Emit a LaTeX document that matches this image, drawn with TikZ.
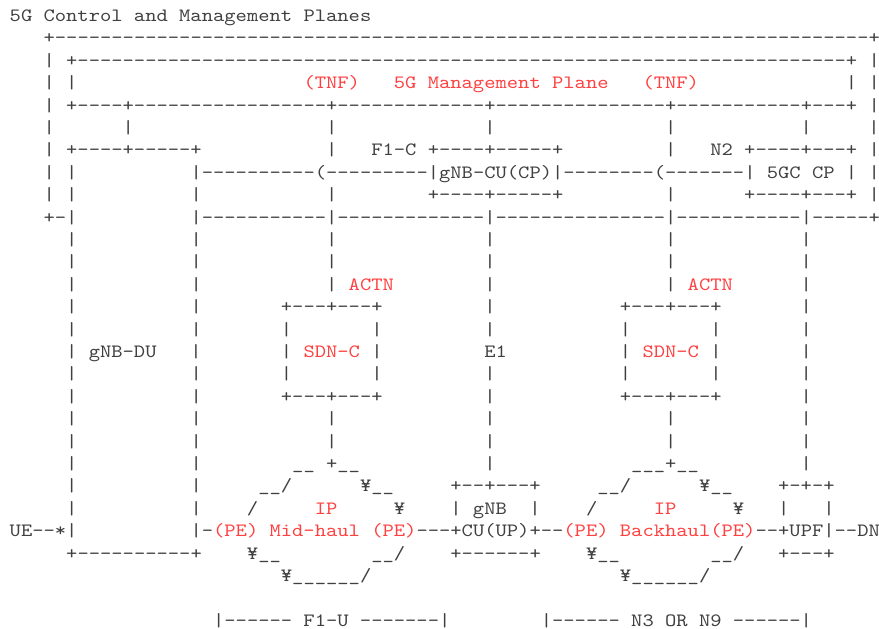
\documentclass[tikz,border=0pt]{standalone}
\usepackage{fontspec}
\setmonofont{lmmono10-regular.otf}[FakeStretch=1.145]
\usepackage{xcolor}
\definecolor{tgray}{HTML}{404040}
\definecolor{tred}{HTML}{FF4040}
\ExplSyntaxOn
\cs_new:Npn \myrepeat #1#2 { \prg_replicate:nn {#1} {#2} }
\ExplSyntaxOff
\newdimen\cw \cw=11.3pt
\newcommand\gap[1]{\kern#1\cw}
\newcommand\dsh[1]{\myrepeat{#1}{-}}
\newcommand\RD[1]{\textcolor{tred}{#1}}
\newcommand\us{\char"5F\relax}
\tikzset{ln/.style={anchor=base west,inner sep=0pt,outer sep=0pt,text=tgray,
  font=\ttfamily\fontsize{18.8}{22.4}\selectfont}}
\newcommand\ascrow[2]{\node[ln] (row#1) at (-1.6,{-21.4-22.4*#1}) {#2};}
\begin{document}
\begin{tikzpicture}[x=1pt,y=1pt]
\useasboundingbox[fill=white] (0,0) rectangle (879,-629);
\ascrow{0}{\gap{1}5G\gap{1}Control\gap{1}and\gap{1}Management\gap{1}Planes}
\ascrow{1}{\gap{4}+\dsh{72}+}
\ascrow{2}{\gap{4}|\gap{1}+\dsh{68}+\gap{1}|}
\ascrow{3}{\gap{4}|\gap{1}|\gap{20}\RD{(TNF)\gap{3}5G\gap{1}Management\gap{1}Plane\gap{3}(TNF)}\gap{13}|\gap{1}|}
\ascrow{4}{\gap{4}|\gap{1}+\dsh{4}+\dsh{17}+\dsh{13}+\dsh{15}+\dsh{11}+\dsh{3}+\gap{1}|}
\ascrow{5}{\gap{4}|\gap{6}|\gap{17}|\gap{13}|\gap{15}|\gap{11}|\gap{5}|}
\ascrow{6}{\gap{4}|\gap{1}+\dsh{4}+\dsh{5}+\gap{11}|\gap{3}F1-C\gap{1}+\dsh{4}+\dsh{5}+\gap{9}|\gap{3}N2\gap{1}+\dsh{4}+\dsh{3}+\gap{1}|}
\ascrow{7}{\gap{4}|\gap{1}|\gap{10}|\dsh{10}(\dsh{9}|gNB-CU(CP)|\dsh{8}(\dsh{7}|\gap{1}5GC\gap{1}CP\gap{1}|\gap{1}|}
\ascrow{8}{\gap{4}|\gap{1}|\gap{10}|\gap{11}|\gap{8}+\dsh{4}+\dsh{5}+\gap{9}|\gap{6}+\dsh{4}+\dsh{3}+\gap{1}|}
\ascrow{9}{\gap{4}+-|\gap{10}|\dsh{11}|\dsh{13}|\dsh{15}|\dsh{11}|\dsh{5}+}
\ascrow{10}{\gap{6}|\gap{10}|\gap{11}|\gap{13}|\gap{15}|\gap{11}|}
\ascrow{11}{\gap{6}|\gap{10}|\gap{11}|\gap{13}|\gap{15}|\gap{11}|}
\ascrow{12}{\gap{6}|\gap{10}|\gap{11}|\gap{1}\RD{ACTN}\gap{8}|\gap{15}|\gap{1}\RD{ACTN}\gap{6}|}
\ascrow{13}{\gap{6}|\gap{10}|\gap{7}+---+---+\gap{9}|\gap{11}+---+---+\gap{7}|}
\ascrow{14}{\gap{6}|\gap{10}|\gap{7}|\gap{7}|\gap{9}|\gap{11}|\gap{7}|\gap{7}|}
\ascrow{15}{\gap{6}|\gap{1}gNB-DU\gap{3}|\gap{7}|\gap{1}\RD{SDN-C}\gap{1}|\gap{9}E1\gap{10}|\gap{1}\RD{SDN-C}\gap{1}|\gap{7}|}
\ascrow{16}{\gap{6}|\gap{10}|\gap{7}|\gap{7}|\gap{9}|\gap{11}|\gap{7}|\gap{7}|}
\ascrow{17}{\gap{6}|\gap{10}|\gap{7}+---+---+\gap{9}|\gap{11}+---+---+\gap{7}|}
\ascrow{18}{\gap{6}|\gap{10}|\gap{11}|\gap{13}|\gap{15}|\gap{11}|}
\ascrow{19}{\gap{6}|\gap{10}|\gap{11}|\gap{13}|\gap{15}|\gap{11}|}
\ascrow{20}{\gap{6}|\gap{10}|\gap{8}\us\us\gap{1}+\us\us\gap{11}|\gap{12}\us\us\us+\us\us\gap{9}|}
\ascrow{21}{\gap{6}|\gap{10}|\gap{5}\us\us/\gap{6}¥\us\us\gap{5}+--+---+\gap{5}\us\us/\gap{6}¥\us\us\gap{4}+-+-+}
\ascrow{22}{\gap{6}|\gap{10}|\gap{4}/\gap{5}\RD{IP}\gap{5}¥\gap{4}|\gap{1}gNB\gap{2}|\gap{4}/\gap{5}\RD{IP}\gap{5}¥\gap{3}|\gap{3}|}
\ascrow{23}{\gap{1}UE--*|\gap{10}|-\RD{(PE)\gap{1}Mid-haul\gap{1}(PE)}---+CU(UP)+--\RD{(PE)\gap{1}Backhaul(PE)}--+UPF|--DN}
\ascrow{24}{\gap{6}+\dsh{10}+\gap{4}¥\us\us\gap{8}\us\us/\gap{4}+\dsh{6}+\gap{4}¥\us\us\gap{8}\us\us/\gap{3}+---+}
\ascrow{25}{\gap{25}¥\us\us\us\us\us\us/\gap{22}¥\us\us\us\us\us\us/}
\ascrow{27}{\gap{19}|\dsh{6}\gap{1}F1-U\gap{1}\dsh{7}|\gap{8}|\dsh{6}\gap{1}N3\gap{1}OR\gap{1}N9\gap{1}\dsh{6}|}
\end{tikzpicture}
\end{document}
